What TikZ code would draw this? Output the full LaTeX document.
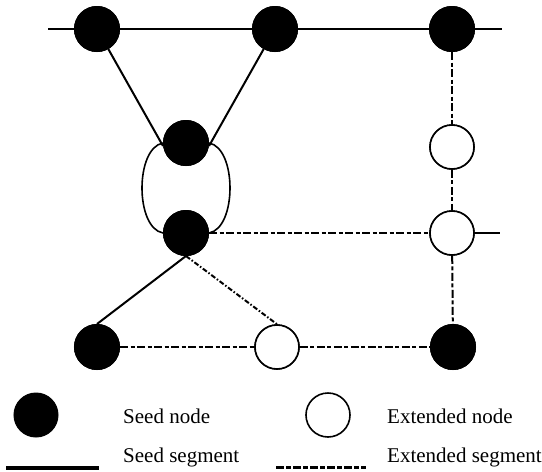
\documentclass[tikz,border=0pt]{standalone}
\usepackage{fontspec}
\setmainfont{Liberation Serif}
\begin{document}
\begin{tikzpicture}[x=1pt,y=-1pt,
  seednode/.style={circle,fill=black,draw=black,line width=1pt,minimum size=45pt,inner sep=0pt},
  extnode/.style={circle,fill=white,draw=black,line width=1.6pt,minimum size=44pt,inner sep=0pt},
  seedseg/.style={line width=2pt},
  extseg/.style={line width=2pt,dash pattern=on 8pt off 2.5pt on 4pt off 2.5pt},
  diagseg/.style={line width=2pt,dash pattern=on 5pt off 2pt on 1.5pt off 2pt},
  lbl/.style={anchor=base west,inner sep=0pt,font=\fontsize{21}{25}\selectfont}]
\useasboundingbox (0,0) rectangle (542,472);
% free ends
\coordinate (tl) at (48,29);
\coordinate (tr) at (502,29);
\coordinate (mr) at (500,233);
% nodes
\node[seednode] (A) at (97,29) {};
\node[seednode] (B) at (275,29) {};
\node[seednode] (C) at (452,29) {};
\node[seednode] (D) at (186,143) {};
\node[seednode] (E) at (186,233) {};
\node[extnode] (F) at (452,147) {};
\node[extnode] (G) at (452,233) {};
\node[seednode] (H) at (97,347) {};
\node[extnode] (I) at (277,347) {};
\node[seednode] (J) at (453,347) {};
% connectors
\draw[seedseg] (tl) -- (A) -- (B) -- (C) -- (tr);
\draw[seedseg] (A) -- ([yshift=-3pt]D.west);
\draw[seedseg] (B) -- ([yshift=-3pt]D.east);
\draw[line width=1.6pt] (D.west) .. controls +(-28,5) and +(-28,-5) .. (E.west);
\draw[line width=1.6pt] (D.east) .. controls +(28,5) and +(28,-5) .. (E.east);
\draw[extseg] (E) -- (G);
\draw[seedseg] (G) -- (mr);
\draw[extseg] (C) -- (F);
\draw[extseg] (F) -- (G);
\draw[extseg] (G) -- (J);
\draw[seedseg] (E.south) -- (H.north);
\draw[diagseg] (E.south) -- (I.north);
\draw[extseg] (H) -- (I);
\draw[extseg] (I) -- (J);
% redraw nodes on top
\node[seednode] at (A) {};
\node[seednode] at (B) {};
\node[seednode] at (C) {};
\node[seednode] at (D) {};
\node[seednode] at (E) {};
\node[extnode] at (F) {};
\node[extnode] at (G) {};
\node[seednode] at (H) {};
\node[extnode] at (I) {};
\node[seednode] at (J) {};
% legend
\node[seednode,minimum size=44pt] (ls) at (36,415) {};
\node[lbl] (lst) at (123,423) {Seed node};
\node[extnode] (le) at (328,415) {};
\node[lbl] (let) at (387,423) {Extended node};
\coordinate (s1) at (6,468);
\coordinate (s2) at (99,468);
\draw[line width=3.5pt] (s1) -- (s2);
\node[lbl] (lss) at (123,462) {Seed segment};
\coordinate (e1) at (276,467);
\coordinate (e2) at (366,467);
\draw[line width=3pt,dash pattern=on 8pt off 2pt on 5pt off 2pt] (e1) -- (e2);
\node[lbl] (les) at (387,462) {Extended segment};
\end{tikzpicture}
\end{document}
